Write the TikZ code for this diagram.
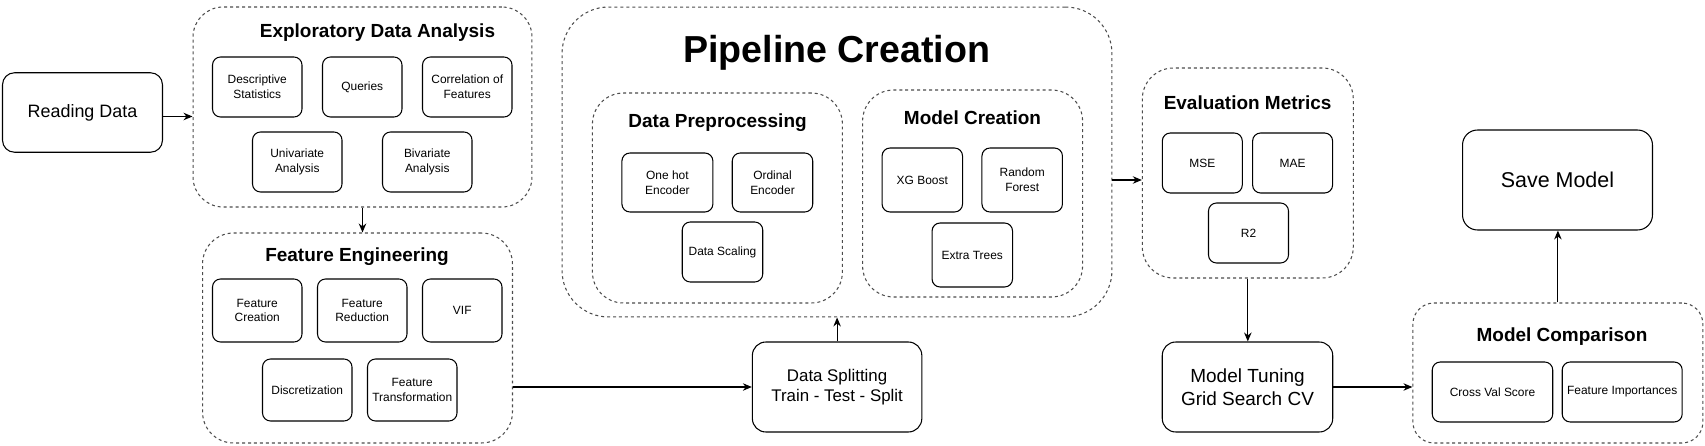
\documentclass[tikz,border=0pt]{standalone}
\usepackage{fontspec}
\setmainfont{Liberation Sans}
\usetikzlibrary{arrows.meta}
\tikzset{
  item/.style={rectangle, draw, line width=0.6pt, rounded corners=0.16cm, align=center, inner sep=0, minimum width=1.79cm, minimum height=1.2cm, font=\fontsize{6.8}{8.3}\selectfont},
  stepbox/.style={rectangle, draw, line width=0.6pt, align=center, inner sep=0, font=\fontsize{10.2}{12.4}\selectfont},
  group/.style={rectangle, draw=black!70, line width=0.6pt, dash pattern=on 1.7pt off 1.7pt, inner sep=0},
  grouptitle/.style={font=\bfseries\fontsize{10.8}{13}\selectfont},
  link/.style={-{Stealth[length=0.18cm, width=0.15cm]}, line width=0.6pt},
}

\begin{document}
\begin{tikzpicture}[x=0.02cm, y=-0.02cm]
\useasboundingbox (0,0) rectangle (1705,446);
%reading data
\node[stepbox, rounded corners=0.24cm, minimum width=3.2cm, minimum height=1.59cm, font=\fontsize{10.2}{12.4}\selectfont] (read) at (82.5,112.5) {Reading Data};
%exploratory data analysis
\node[group, rounded corners=0.6cm, minimum width=6.78cm, minimum height=4cm] (eda) at (362.5,107) {};
\node[grouptitle] (eda_title) at (377.5,33) {Exploratory Data Analysis};
\node[item] (desc) at (257.25,87) {Descriptive\\Statistics};
\node[item, minimum width=1.59cm] (queries) at (362.25,87) {Queries};
\node[item] (corr) at (467.25,87) {Correlation of\\Features};
\node[item] (univ) at (297.25,162) {Univariate\\Analysis};
\node[item] (biv) at (427.25,162) {Bivariate\\Analysis};
%feature engineering
\node[group, rounded corners=0.62cm, minimum width=6.2cm, minimum height=4.2cm] (fe) at (357.5,338) {};
\node[grouptitle] (fe_title) at (357,257) {Feature Engineering};
\node[item, minimum height=1.26cm] (fcreate) at (257.25,310.5) {Feature\\Creation};
\node[item, minimum height=1.26cm] (fred) at (362.25,310.5) {Feature\\Reduction};
\node[item, minimum height=1.26cm, minimum width=1.59cm] (vif) at (462.25,310.5) {VIF};
\node[item, minimum height=1.24cm] (disc) at (307.25,390) {Discretization};
\node[item, minimum height=1.24cm] (ftrans) at (412.25,390) {Feature\\Transformation};
%pipeline creation
\node[group, rounded corners=0.93cm, minimum width=11cm, minimum height=6.2cm] (pipe) at (837,162) {};
\node[font=\bfseries\fontsize{21.4}{25}\selectfont] (pipe_title) at (836.7,53) {Pipeline Creation};
%data preprocessing
\node[group, rounded corners=0.62cm, minimum width=5cm, minimum height=4.2cm] (prep) at (717.4,198) {};
\node[grouptitle] (prep_title) at (717.6,123) {Data Preprocessing};
\node[item, minimum width=1.82cm, minimum height=1.18cm] (onehot) at (667.4,182.5) {One hot\\Encoder};
\node[item, minimum width=1.61cm, minimum height=1.18cm] (ordinal) at (772.5,182.5) {Ordinal\\Encoder};
\node[item, minimum width=1.61cm] (scaling) at (722.5,252) {Data Scaling};
%model creation
\node[group, rounded corners=0.62cm, minimum width=4.4cm, minimum height=4.14cm] (model) at (972.6,193.5) {};
\node[grouptitle] (model_title) at (972.5,118) {Model Creation};
\node[item, minimum width=1.61cm, minimum height=1.28cm] (xgb) at (922.3,180) {XG Boost};
\node[item, minimum width=1.61cm, minimum height=1.28cm] (rf) at (1022.2,180) {Random\\Forest};
\node[item, minimum width=1.61cm, minimum height=1.28cm] (et) at (972.3,255) {Extra Trees};
%data splitting
\node[stepbox, rounded corners=0.27cm, minimum width=3.39cm, minimum height=1.8cm, font=\fontsize{9.6}{11.7}\selectfont] (split) at (837.1,387) {Data Splitting\\Train - Test - Split};
%evaluation metrics
\node[group, rounded corners=0.62cm, minimum width=4.22cm, minimum height=4.2cm] (eval) at (1247.8,173) {};
\node[grouptitle] (eval_title) at (1247.6,103) {Evaluation Metrics};
\node[item, minimum width=1.6cm] (mse) at (1202.3,163) {MSE};
\node[item, minimum width=1.6cm] (mae) at (1292.6,163) {MAE};
\node[item, minimum width=1.6cm] (r2) at (1248.5,233) {R2};
%model tuning
\node[stepbox, rounded corners=0.27cm, minimum width=3.41cm, minimum height=1.8cm, font=\fontsize{10.8}{12.8}\selectfont] (tune) at (1247.5,387) {Model Tuning\\Grid Search CV};
%save model
\node[stepbox, rounded corners=0.3cm, minimum width=3.8cm, minimum height=2cm, font=\fontsize{12.2}{14}\selectfont] (save) at (1557.5,180) {Save Model};
%model comparison
\node[group, rounded corners=0.42cm, minimum width=5.8cm, minimum height=2.8cm] (comp) at (1557.9,373) {};
\node[grouptitle] (comp_title) at (1562,337) {Model Comparison};
\node[item, minimum width=2.41cm] (cvs) at (1492.5,392) {Cross Val Score};
\node[item, minimum width=2.4cm] (fimp) at (1622.2,392) {Feature Importances};
% links
\draw[link] ([yshift=-0.08cm]read.east) -- ([yshift=-0.08cm]read.east -| eda.west);
\draw[link] (eda.south) -- (eda.south |- fe.north);
\draw[link] (split.west -| fe.east) -- (split.west);
\draw[link] (split.north) -- (split.north |- pipe.south);
\draw[link] ([yshift=-0.14cm]eval.west -| pipe.east) -- ([yshift=-0.14cm]eval.west);
\draw[link] (eval.south) -- (eval.south |- tune.north);
\draw[link] (tune.east) -- (tune.east -| comp.west);
\draw[link] (comp.north) -- (comp.north |- save.south);
\end{tikzpicture}
\end{document}
